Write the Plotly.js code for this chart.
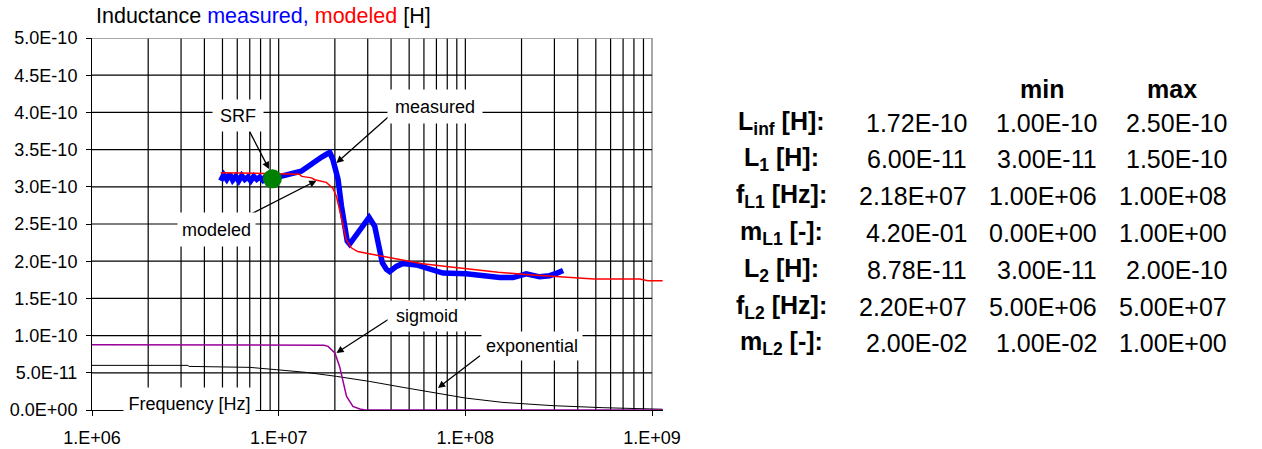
<!DOCTYPE html>
<html>
<head>
<meta charset="utf-8">
<script src="https://cdn.plot.ly/plotly-3.0.1.min.js"></script>
<style>html,body{margin:0;padding:0;background:#fff;}#chart{width:1262px;height:449px;}</style>
</head>
<body>
<div id="chart"></div>
<script>
// ---------- data ----------
const freqMeasured = [4.89e6,5.08e6,5.27e6,5.47e6,5.67e6,5.89e6,6.11e6,6.34e6,6.58e6,6.83e6,
  7.08e6,7.35e6,7.63e6,7.91e6,8.21e6,8.52e6,8.95e6,9.41e6,9.88e6,1.03e7,
  1.1e7,1.2e7,1.32e7,1.45e7,1.56e7,1.7e7,1.84e7,1.88e7,1.95e7,2.08e7,
  2.17e7,2.26e7,2.33e7,2.4e7,2.6e7,2.85e7,3.05e7,3.27e7,3.45e7,3.59e7,
  3.78e7,3.93e7,4.27e7,4.63e7,5.47e7,6.71e7,7.59e7,1.01e8,1.19e8,1.53e8,
  1.8e8,2.12e8,2.5e8,2.83e8,3.1e8,3.34e8];
const lMeasured = [3.08e-10,3.16e-10,3.10e-10,3.17e-10,3.09e-10,3.14e-10,3.08e-10,3.15e-10,3.10e-10,3.13e-10,
  3.08e-10,3.14e-10,3.10e-10,3.13e-10,3.09e-10,3.14e-10,3.12e-10,3.11e-10,3.13e-10,3.14e-10,
  3.15e-10,3.17e-10,3.21e-10,3.28e-10,3.34e-10,3.40e-10,3.45e-10,3.46e-10,3.37e-10,3.10e-10,
  2.74e-10,2.42e-10,2.27e-10,2.23e-10,2.35e-10,2.50e-10,2.59e-10,2.47e-10,2.20e-10,1.98e-10,
  1.89e-10,1.86e-10,1.93e-10,1.97e-10,1.95e-10,1.89e-10,1.84e-10,1.83e-10,1.81e-10,1.78e-10,
  1.78e-10,1.83e-10,1.79e-10,1.805e-10,1.84e-10,1.875e-10];

const freqModeled = [4.89e6,6.5e6,8.5e6,1.05e7,1.29e7,1.33e7,1.5e7,1.56e7,1.8e7,1.95e7,
  2.04e7,2.12e7,2.21e7,2.3e7,2.45e7,2.65e7,3.05e7,3.75e7,4.7e7,5.9e7,
  8.6e7,1.1e8,1.5e8,2.2e8,3.2e8,4.1e8,4.9e8,8.6e8,9.5e8,1.14e9];
const lModeled = [3.19e-10,3.185e-10,3.18e-10,3.175e-10,3.17e-10,3.14e-10,3.12e-10,3.095e-10,3.06e-10,2.98e-10,
  2.87e-10,2.69e-10,2.47e-10,2.29e-10,2.18e-10,2.13e-10,2.10e-10,2.056e-10,2.01e-10,1.966e-10,
  1.92e-10,1.886e-10,1.85e-10,1.818e-10,1.79e-10,1.774e-10,1.76e-10,1.76e-10,1.738e-10,1.738e-10];

const freqSigmoid = [1e6,1.59e7,1.75e7,1.84e7,2.0e7,2.12e7,2.21e7,2.31e7,2.5e7,2.72e7,2.9e7,1.14e9];
const lSigmoid = [8.78e-11,8.78e-11,8.7e-11,8.55e-11,7.66e-11,5.86e-11,4.07e-11,1.83e-11,4.8e-12,1.3e-12,0,0];

const freqExponential = [1e6,3.27e6,3.3e6,7e6,9.7e6,1.41e7,2.04e7,3.07e7,4.64e7,7.0e7,
  1.0e8,1.59e8,2.95e8,5.47e8,8.24e8,9.3e8,1.14e9];
const lExponential = [6.0e-11,6.0e-11,5.86e-11,5.73e-11,5.42e-11,5.05e-11,4.52e-11,3.84e-11,3.04e-11,2.28e-11,
  1.61e-11,1.02e-11,5.8e-12,3.1e-12,2.2e-12,1.3e-12,1.0e-12];

const srfFreq = [9.25e6];
const srfL = [3.109e-10];

const xTickVals = [1e6,1e7,1e8,1e9];
const xTickText = ['1.E+06','1.E+07','1.E+08','1.E+09'];
const yTickVals = [0,0.5e-10,1.0e-10,1.5e-10,2.0e-10,2.5e-10,3.0e-10,3.5e-10,4.0e-10,4.5e-10,5.0e-10];
const yTickText = ['0.0E+00','5.0E-11','1.0E-10','1.5E-10','2.0E-10','2.5E-10','3.0E-10','3.5E-10','4.0E-10','4.5E-10','5.0E-10'];

const paramLabels = ['L<sub>inf</sub> [H]:','L<sub>1</sub> [H]:','f<sub>L1</sub> [Hz]:','m<sub>L1</sub> [-]:','L<sub>2</sub> [H]:','f<sub>L2</sub> [Hz]:','m<sub>L2</sub> [-]:'];
const paramValue = ['1.72E-10','6.00E-11','2.18E+07','4.20E-01','8.78E-11','2.20E+07','2.00E-02'];
const paramMin = ['1.00E-10','3.00E-11','1.00E+06','0.00E+00','3.00E-11','5.00E+06','1.00E-02'];
const paramMax = ['2.50E-10','1.50E-10','1.00E+08','1.00E+00','2.00E-10','5.00E+07','1.00E+00'];
const tableHeaders = ['min','max'];

// ---------- layout helpers ----------
const FONT = 'Liberation Sans, Arial, sans-serif';
const L = 92, R = 663, T = 38, B = 410;
const px2x = px => (px - L) / (R - L);
const py2y = py => (B - py) / (B - T);
const decadeStarts = [1e6, 1e7, 1e8];
const xFrame = xTickVals[xTickVals.length - 1];
const yTop = yTickVals[yTickVals.length - 1];

const traces = [
  {x: freqExponential, y: lExponential, mode:'lines', line:{color:'#000000', width:1}, hoverinfo:'skip'},
  {x: freqSigmoid, y: lSigmoid, mode:'lines', line:{color:'#990099', width:1.5}, hoverinfo:'skip'},
  {x: freqMeasured, y: lMeasured, mode:'lines', line:{color:'#0000FF', width:5.5}, hoverinfo:'skip'},
  {x: freqModeled, y: lModeled, mode:'lines', line:{color:'#FF0000', width:1.5}, hoverinfo:'skip'},
  {x: srfFreq, y: srfL, mode:'markers', marker:{color:'#008000', size:19}, hoverinfo:'skip'}
];

// grid shapes
const shapes = [];
decadeStarts.forEach(d => {
  for (let m = 1; m <= 9; m++) {
    if (d === 1e6 && m === 1) continue;
    const fx = d * m;
    shapes.push({type:'line', xref:'x', yref:'y', x0:fx, x1:fx, y0:0, y1:yTop,
      line:{color:'#000000', width:1.2}, layer:'below'});
  }
});
shapes.push({type:'line', xref:'x', yref:'y', x0:xFrame, x1:xFrame, y0:0, y1:yTop,
  line:{color:'#8c8c8c', width:1.5}, layer:'below'});
yTickVals.forEach((v, i) => {
  if (i === 0) return;
  const top = i === yTickVals.length - 1;
  shapes.push({type:'line', xref:'x', yref:'y', x0:xTickVals[0], x1:xFrame, y0:v, y1:v,
    line:{color: top ? '#8c8c8c' : '#000000', width: top ? 1.5 : 1.2}, layer:'below'});
});

const annotations = [];
// arrows (head at data point, tail offset in px); annotation x on log axis is log10
const arrows = [
  {f:8.876e6, v:3.239e-10, ax:-20, ay:-38.6},
  {f:2.039e7, v:3.32e-10, ax:53.3, ay:-47.3},
  {f:1.593e7, v:3.082e-10, ax:-66.7, ay:34},
  {f:2.039e7, v:0.766e-10, ax:54, ay:-35},
  {f:7.14e7, v:0.296e-10, ax:43.4, ay:-33.3}
];
arrows.forEach(a => annotations.push({
  x: Math.log10(a.f), y: a.v, xref:'x', yref:'y', text:'', showarrow:true,
  ax:a.ax, ay:a.ay, arrowhead:2, arrowsize:1.1, arrowwidth:1.3, arrowcolor:'#000000', standoff:0
}));
// labels with white boxes
const labels = [
  {t:'SRF', cx:238, cy:115, w:50, h:31},
  {t:'measured', cx:435, cy:106.5, w:94, h:33},
  {t:'modeled', cx:216.5, cy:229.5, w:77, h:33},
  {t:'sigmoid', cx:427, cy:316, w:78, h:30},
  {t:'exponential', cx:531.5, cy:346, w:100, h:28},
  {t:'Frequency [Hz]', cx:189.5, cy:404, w:131, h:32}
];
labels.forEach(l => annotations.push({
  x: px2x(l.cx), y: py2y(l.cy), xref:'paper', yref:'paper', xanchor:'center', yanchor:'middle',
  text:l.t, showarrow:false, bgcolor:'#ffffff', width:l.w, height:l.h, borderpad:0,
  font:{family:FONT, size:18, color:'#000000'}
}));
// parameter table
const rowY0 = 122.5, rowStep = 36.8;
const colRight = [968.5, 1099, 1229];
annotations.push({x:px2x(1042), y:py2y(88.5), xref:'paper', yref:'paper', xanchor:'center', yanchor:'middle',
  text:'<b>'+tableHeaders[0]+'</b>', showarrow:false, font:{family:FONT, size:25, color:'#000'}});
annotations.push({x:px2x(1172), y:py2y(88.5), xref:'paper', yref:'paper', xanchor:'center', yanchor:'middle',
  text:'<b>'+tableHeaders[1]+'</b>', showarrow:false, font:{family:FONT, size:25, color:'#000'}});
paramLabels.forEach((lab, i) => {
  const py = rowY0 + i * rowStep;
  annotations.push({x:px2x(781), y:py2y(py), xref:'paper', yref:'paper', xanchor:'center', yanchor:'middle',
    text:'<b>'+lab+'</b>', showarrow:false, font:{family:FONT, size:25, color:'#000'}});
  [paramValue[i], paramMin[i], paramMax[i]].forEach((val, j) => {
    annotations.push({x:px2x(colRight[j]), y:py2y(py), xref:'paper', yref:'paper', xanchor:'right', yanchor:'middle',
      text:val, showarrow:false, font:{family:FONT, size:25, color:'#000'}});
  });
});

const layout = {
  width:1262, height:449,
  margin:{l:L, r:1262-R, t:T, b:449-B, pad:0},
  paper_bgcolor:'#ffffff', plot_bgcolor:'#ffffff',
  showlegend:false,
  title:{
    text:'Inductance <span style="color:#0000FF">measured,</span> <span style="color:#FF0000">modeled</span> [H]',
    x:96/1262, xanchor:'left', xref:'container', y:1-15/449, yanchor:'middle', yref:'container',
    font:{family:FONT, size:21.5, color:'#000000'}
  },
  xaxis:{
    type:'log', range:[6, 6 + (R - L) / 186.67], tickvals:xTickVals, ticktext:xTickText,
    ticks:'outside', ticklen:5, tickcolor:'#000', showline:true, linecolor:'#000', linewidth:1,
    showgrid:false, zeroline:false, tickfont:{family:FONT, size:18, color:'#000'}, ticklabelstandoff:6
  },
  yaxis:{
    range:[0, 5e-10], tickvals:yTickVals, ticktext:yTickText,
    ticks:'outside', ticklen:5, tickcolor:'#000', showline:true, linecolor:'#000', linewidth:1,
    showgrid:false, zeroline:false, tickfont:{family:FONT, size:18, color:'#000'}, ticklabelstandoff:5
  },
  shapes:shapes,
  annotations:annotations
};

Plotly.newPlot('chart', traces, layout, {staticPlot:true, displayModeBar:false});
</script>
</body>
</html>
